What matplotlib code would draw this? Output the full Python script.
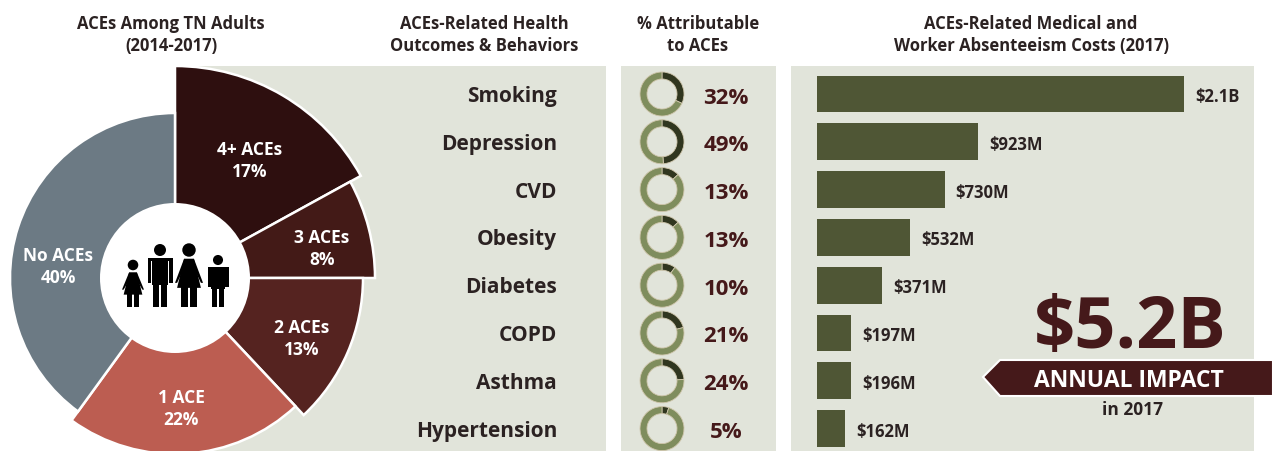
import matplotlib
matplotlib.use("Agg")
import matplotlib.pyplot as plt
from matplotlib.patches import Wedge, Rectangle, Circle, Polygon

plt.rcParams['font.family'] = ['Open Sans', 'DejaVu Sans']
plt.rcParams['font.weight'] = 'bold'

W = 1273
H = 452

# left pie
pie_labels = ["4+ ACEs", "3 ACEs", "2 ACEs", "1 ACE", "No ACEs"]
pie_values = [17, 8, 13, 22, 40]
pie_radius = [212, 200, 188, 176, 165]
pie_colors = ["#2E0F0F", "#431A17", "#552320", "#BC5D51", "#6C7A84"]
pie_text_xy = [(250, 161), (322, 249), (302, 339), (181, 409), (58, 267)]

# rows
outcomes = ["Smoking", "Depression", "CVD", "Obesity", "Diabetes", "COPD", "Asthma", "Hypertension"]
attributable = [32, 49, 13, 13, 10, 21, 24, 5]
costs = [2100, 923, 730, 532, 371, 197, 196, 162]
cost_labels = ["$2.1B", "$923M", "$730M", "$532M", "$371M", "$197M", "$196M", "$162M"]

panel = "#E1E4DA"
maroon = "#45191A"
ink = "#2B2222"
olive = "#4F5635"

fig = plt.figure(figsize=(W / 100, H / 100), dpi=100)
ax = fig.add_axes([0, 0, 1, 1])
ax.set_xlim(0, W)
ax.set_ylim(H, 0)
ax.axis("off")

# panels
ax.add_patch(Rectangle((176, 67), 430, 385, color=panel, lw=0))
ax.add_patch(Rectangle((621, 67), 155, 385, color=panel, lw=0))
ax.add_patch(Rectangle((791, 67), 463, 385, color=panel, lw=0))

# headers
hs = 12
ax.text(171, 35, "ACEs Among TN Adults\n(2014-2017)", ha="center", va="center", fontsize=hs, color=ink, linespacing=1.25)
ax.text(484, 35, "ACEs-Related Health\nOutcomes & Behaviors", ha="center", va="center", fontsize=hs, color=ink, linespacing=1.25)
ax.text(698, 35, "% Attributable\nto ACEs", ha="center", va="center", fontsize=hs, color=ink, linespacing=1.25)
ax.text(1031, 35, "ACEs-Related Medical and\nWorker Absenteeism Costs (2017)", ha="center", va="center", fontsize=hs, color=ink, linespacing=1.25)

# pie, y axis is flipped so angles run clockwise from the top
cx, cy = 175, 279
start = -90
for i in range(len(pie_values)):
    sweep = pie_values[i] * 3.6
    ax.add_patch(Wedge((cx, cy), pie_radius[i], start, start + sweep, facecolor=pie_colors[i], edgecolor="white", lw=1.8))
    start = start + sweep
    ax.text(pie_text_xy[i][0], pie_text_xy[i][1], pie_labels[i] + "\n" + str(pie_values[i]) + "%",
            ha="center", va="center", color="white", fontsize=12.5, linespacing=1.25)
ax.add_patch(Circle((cx, cy), 75, color="white", lw=0, zorder=3))


# family icon in the middle of the pie
def person(x, head_y, feet_y, half, skirt=False):
    head_r = half * 0.48
    ax.add_patch(Circle((x, head_y), head_r, color="black", lw=0, zorder=4))
    top = head_y + head_r + 2
    mid = top + (feet_y - top) * 0.5
    if skirt:
        ax.add_patch(Polygon([(x - half * 0.35, top), (x + half * 0.35, top), (x + half * 0.85, mid + 5), (x - half * 0.85, mid + 5)], color="black", lw=0, zorder=4))
        ax.add_patch(Polygon([(x - half * 0.35, top), (x - half, mid), (x - half * 0.85, mid), (x - half * 0.2, top + 5)], color="black", lw=0, zorder=4))
        ax.add_patch(Polygon([(x + half * 0.35, top), (x + half, mid), (x + half * 0.85, mid), (x + half * 0.2, top + 5)], color="black", lw=0, zorder=4))
    else:
        ax.add_patch(Rectangle((x - half * 0.62, top), half * 1.24, mid - top + 2, color="black", lw=0, zorder=4))
        ax.add_patch(Rectangle((x - half, top), half * 0.3, mid - top, color="black", lw=0, zorder=4))
        ax.add_patch(Rectangle((x + half * 0.7, top), half * 0.3, mid - top, color="black", lw=0, zorder=4))
        ax.add_patch(Rectangle((x - half, top), half * 2, 3, color="black", lw=0, zorder=4))
    ax.add_patch(Rectangle((x - half * 0.55, mid), half * 0.48, feet_y - mid, color="black", lw=0, zorder=4))
    ax.add_patch(Rectangle((x + half * 0.07, mid), half * 0.48, feet_y - mid, color="black", lw=0, zorder=4))


person(133, 266, 308, 11, skirt=True)
person(160, 251, 308, 12.5)
person(189, 251, 308, 14, skirt=True)
person(218, 261, 308, 10.5)

# rows of labels and small rings
row_y = [95 + 47.8 * i for i in range(len(outcomes))]
for i in range(len(outcomes)):
    ax.text(557, row_y[i] + 1.5, outcomes[i], ha="right", va="center", fontsize=15, color=ink)
    v = attributable[i]
    ax.add_patch(Wedge((662, row_y[i]), 22, -90, -90 + v * 3.6, width=7, facecolor="#30361F", edgecolor="#CFC6AC", lw=0.6))
    ax.add_patch(Wedge((662, row_y[i]), 22, -90 + v * 3.6, 270, width=7, facecolor="#7F8D5D", edgecolor="#CFC6AC", lw=0.6))
    ax.text(726, row_y[i] + 3, str(v) + "%", ha="center", va="center", fontsize=16, color=maroon)

# bars get their own scale in $M
bx = fig.add_axes([817 / W, 0, (1254 - 817) / W, (H - 67) / H])
bx.set_xlim(0, 437 / 0.1748)
bx.set_ylim(7.47, -0.586)
bx.axis("off")
bx.patch.set_alpha(0)
bars = bx.barh(range(len(costs)), costs, height=0.77, color=olive)
for i in range(len(costs)):
    bx.annotate(cost_labels[i], (costs[i], i), xytext=(8, -1.5), textcoords="offset points",
                ha="left", va="center", fontsize=12, color=ink)

# callout
ax.text(1130, 329, "$5.2B", ha="center", va="center", fontsize=52, color=maroon, zorder=6)
ax.add_patch(Polygon([(983, 378), (1000, 361), (1273, 361), (1273, 397), (1000, 397)],
                     facecolor=maroon, edgecolor="white", lw=1.5, zorder=6))
ax.text(1129, 381, "ANNUAL IMPACT", ha="center", va="center", fontsize=16.5, color="white", zorder=7)
ax.text(1132, 410, "in 2017", ha="center", va="center", fontsize=12.5, color=ink, zorder=7)

fig.savefig("out.png", dpi=100)
